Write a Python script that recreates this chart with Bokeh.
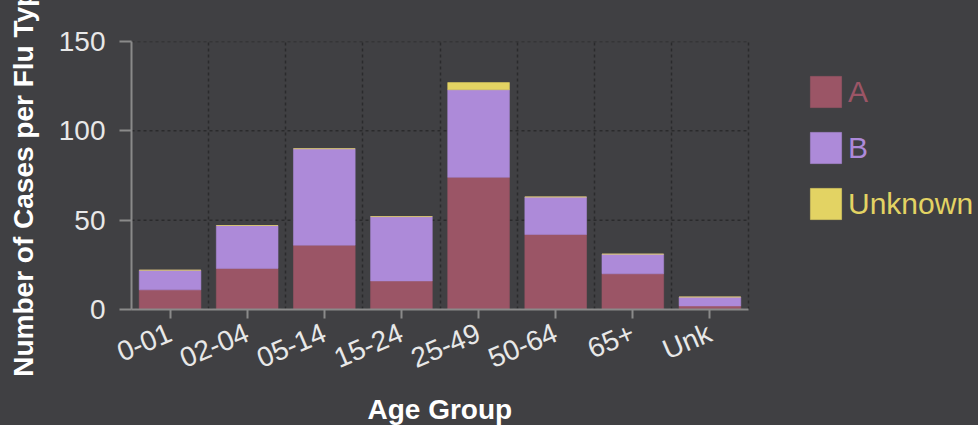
from bokeh.plotting import figure
from bokeh.models import (Range1d, FixedTicker, Legend, LegendItem, ColumnDataSource, Title)
from bokeh.embed import file_html
from bokeh.resources import INLINE

# ---- data ----
age_groups = ["0-01", "02-04", "05-14", "15-24", "25-49", "50-64", "65+", "Unk"]
type_a = [11, 23, 36, 16, 74, 42, 20, 2]
type_b = [11, 24, 54, 36, 49, 21, 11, 5]
type_unknown = [0, 0, 0, 0, 4, 0, 0, 0]
series_names = ["A", "B", "Unknown"]
y_ticks = [0, 50, 100, 150]

# ---- styles ----
BG = "#404043"
COLORS = ["#9b5566", "#ad8ad9", "#e3d363"]
FONT = "Liberation Sans"
GRID = "#2a2a2c"

n = len(age_groups)
centers = [i + 0.5 for i in range(n)]
src = ColumnDataSource(dict(x=centers, A=type_a, B=type_b, Unknown=type_unknown))

W, H = 978, 425
FRAME_L, FRAME_R, FRAME_T, FRAME_B = 131, 748, 41, 309
px_per_cat = (FRAME_R - FRAME_L) / n
x_end = (W - FRAME_L) / px_per_cat   # frame extends under the legend area

p = figure(width=W, height=H,
           x_range=Range1d(0, x_end),
           y_range=Range1d(0, 150),
           output_backend="svg", toolbar_location=None,
           min_border_left=FRAME_L, min_border_right=0,
           min_border_top=FRAME_T, min_border_bottom=H - FRAME_B,
           styles={"background-color": BG})

p.background_fill_color = BG
p.border_fill_color = BG
p.outline_line_color = None
p.outline_line_alpha = 0

# horizontal grid lines, limited to the category area
p.ygrid.visible = False
p.segment(x0=0, x1=n, y0=y_ticks, y1=y_ticks, line_color=GRID,
          line_dash="3 3", line_width=1.5, level="underlay")

# vertical grid lines between the age groups
p.xgrid.ticker = FixedTicker(ticks=[float(i) for i in range(1, n + 1)])
p.xgrid.grid_line_color = GRID
p.xgrid.grid_line_dash = "3 3"
p.xgrid.grid_line_width = 1.5

renderers = p.vbar_stack(series_names, x="x", width=0.8, source=src,
                         fill_color=COLORS, line_color=COLORS, line_alpha=0.55,
                         line_width=1)

# axes
p.xaxis.ticker = FixedTicker(ticks=centers)
p.xaxis.major_label_overrides = {c: lab for c, lab in zip(centers, age_groups)}
p.xaxis.bounds = (0, n)
p.yaxis.ticker = FixedTicker(ticks=y_ticks)
for ax in (p.xaxis, p.yaxis):
    ax.axis_line_color = "#8a8a8a"
    ax.axis_line_width = 2
    ax.major_tick_line_color = "#8a8a8a"
    ax.major_tick_line_width = 2
    ax.major_tick_in = 0
    ax.minor_tick_line_color = None
    ax.major_label_text_color = "#e8e8e8"
    ax.major_label_text_font = FONT
    ax.major_label_text_font_size = "28px"
    ax.axis_label_text_color = "#ffffff"
    ax.axis_label_text_font = FONT
    ax.axis_label_text_font_size = "28px"
    ax.axis_label_text_font_style = "bold"

p.xaxis.major_tick_out = 9
p.yaxis.major_tick_out = 12
p.yaxis.major_label_standoff = 14
p.xaxis.major_label_standoff = 13
p.xaxis.major_label_orientation = 0.4
p.yaxis.axis_label = "Number of Cases per Flu Type"
p.yaxis.axis_label_standoff = 17

# x-axis title, centred under the category area
p.add_layout(Title(text="Age Group", align="left", offset=236,
                   text_font=FONT, text_font_size="28px", text_font_style="bold",
                   text_color="#ffffff", standoff=2), "below")

# legends (one per series so each label gets its own colour)
# Bokeh insets area glyphs by 10%, so a 39px glyph box gives a ~31px swatch
legend_offsets = [198, 142, 86]
for r, name, col, yoff in zip(renderers, series_names, COLORS, legend_offsets):
    leg = Legend(items=[LegendItem(label=name, renderers=[r])],
                 location=(806 - FRAME_L, yoff),
                 label_text_color=col, label_text_font=FONT,
                 label_text_font_size="30px", label_standoff=3,
                 glyph_width=39, glyph_height=39, label_height=39,
                 padding=0, margin=0, border_line_color=None,
                 background_fill_alpha=0)
    p.add_layout(leg)

open("out.html", "w").write(file_html(p, INLINE))
